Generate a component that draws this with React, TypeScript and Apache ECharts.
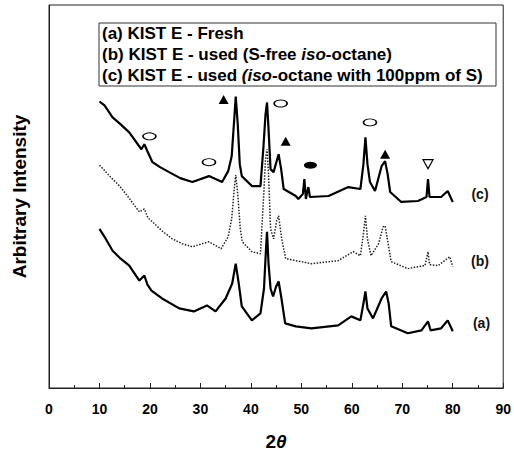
import React, { useEffect, useRef } from "react";
import * as echarts from "echarts";

// 2θ (degrees), arbitrary intensity
const traceA: [number, number][] = [
  [10, 160], [11, 152], [12.6, 138], [14.2, 130], [15.9, 123], [17.9, 108], [18.9, 113], [19.5, 104],
  [20.3, 98], [22.4, 90], [25.8, 80], [28.7, 77], [31.3, 83], [33.0, 77], [35.0, 90], [36.3, 105],
  [37.0, 125], [37.6, 105], [38.2, 82], [40.2, 68], [41.9, 75], [42.6, 100], [43.0, 140], [43.2, 157],
  [43.5, 125], [43.9, 100], [44.4, 92], [45.0, 102], [45.5, 107], [46.0, 92], [46.8, 65], [48.9, 62],
  [52, 60], [57.3, 63], [59.9, 72], [61.7, 68], [62.3, 85], [62.7, 97], [63.1, 80], [64.2, 70],
  [65.9, 90], [66.8, 97], [67.3, 85], [67.8, 62], [71.1, 55], [73.8, 58], [75.1, 67], [75.6, 58],
  [77.7, 60], [79, 68], [80, 57],
];

const traceB: [number, number][] = [
  [10, 224], [10.4, 222], [12.2, 212], [14, 203], [16, 190], [17.9, 177], [18.9, 180], [19.6, 171],
  [20.5, 167], [22.4, 158], [24.4, 150], [26.4, 145], [28.4, 142], [31.7, 147], [34.1, 140], [35.5, 152],
  [36.2, 170], [36.7, 200], [37.0, 214], [37.4, 195], [37.9, 160], [38.3, 147], [40.2, 137], [41.9, 135],
  [42.5, 190], [42.9, 230], [43.2, 240], [43.5, 215], [43.9, 160], [44.5, 150], [45.1, 168], [45.5, 173],
  [46.1, 150], [46.9, 130], [52, 125], [57.3, 128], [60.3, 137], [61.7, 133], [62.3, 155], [62.7, 173],
  [63.1, 150], [63.8, 133], [65.3, 145], [66.2, 162], [66.6, 163], [67.2, 145], [67.8, 127], [71.1, 120],
  [74.5, 123], [75.1, 137], [75.4, 124], [77.1, 123], [79.4, 132], [80, 122],
];

const traceC: [number, number][] = [
  [10, 288], [11, 284], [12.6, 272], [14.2, 265], [15.9, 257], [18.3, 240], [18.9, 245], [19.5, 238],
  [20.5, 227], [22.0, 222], [23.8, 217], [26.0, 211], [28.4, 207], [31.7, 213], [34.3, 207], [35.5, 218],
  [36.2, 233], [36.7, 270], [37.0, 293], [37.4, 265], [37.8, 225], [38.2, 213], [40.2, 203], [41.9, 203],
  [42.5, 243], [42.9, 275], [43.2, 287], [43.5, 260], [43.9, 220], [44.5, 217], [45.1, 228], [45.5, 235],
  [46.0, 220], [46.5, 200], [48.9, 193], [49.4, 190], [50.3, 195], [50.6, 210], [50.9, 190], [51.2, 198],
  [51.4, 202], [51.7, 192], [55.4, 193], [59.3, 202], [61.7, 200], [62.3, 225], [62.7, 252], [63.1, 225],
  [63.6, 207], [64.6, 198], [65.9, 223], [66.6, 228], [67.1, 215], [67.6, 197], [69.8, 187], [73.1, 188],
  [74.8, 192], [75.1, 210], [75.4, 192], [77.7, 192], [79.0, 198], [80, 187],
];

// phase markers: [2θ, height, kind]
const markerPts: [number, number, string][] = [
  [34.6, 290, "tri"], [19.9, 253, "ell"], [31.7, 227, "ell"], [45.9, 286, "ell"], [46.9, 248, "tri"],
  [51.8, 224, "dot"], [63.6, 267, "ell"], [66.6, 235, "tri"], [75.1, 225, "itri"],
];

// trace labels
const traceLabels: [number, number, string][] = [
  [85.5, 195, "(c)"], [85.5, 127, "(b)"], [85.8, 65, "(a)"],
];

const xTicks = { min: 0, max: 90, interval: 10 };

const FONT = "'Liberation Sans', Arial, Helvetica, sans-serif";

export default function App() {
  const ref = useRef<HTMLDivElement>(null);
  useEffect(() => {
    if (!ref.current) return;
    const chart = echarts.init(ref.current, null, { renderer: "svg" });
    const markerData = markerPts.map(([x, y, k]) => {
      if (k === "tri")
        return { value: [x, y], symbol: "triangle", symbolSize: [10, 9], itemStyle: { color: "#000", opacity: 1 } };
      if (k === "itri")
        return {
          value: [x, y],
          symbol: "path://M0,0 L10,0 L5,9 Z",
          symbolSize: [10, 9],
          itemStyle: { color: "#fff", borderColor: "#000", borderWidth: 1.2, opacity: 1 },
        };
      if (k === "dot")
        return { value: [x, y], symbol: "circle", symbolSize: [13, 7], itemStyle: { color: "#000", opacity: 1 } };
      return {
        value: [x, y],
        symbol: "circle",
        symbolSize: [13, 7],
        itemStyle: { color: "#fff", borderColor: "#000", borderWidth: 1.2, opacity: 1 },
      };
    });
    chart.setOption({
      animation: false,
      backgroundColor: "#fff",
      grid: {
        left: 49,
        right: 9,
        top: 5,
        bottom: 66,
        show: true,
        borderColor: "#222",
        borderWidth: 1,
        containLabel: false,
      },
      xAxis: {
        type: "value",
        min: xTicks.min,
        max: xTicks.max,
        interval: xTicks.interval,
        axisLine: { show: true, lineStyle: { color: "#222", width: 1 } },
        axisTick: { show: true, inside: true, length: 5, lineStyle: { color: "#222" } },
        minorTick: { show: true, splitNumber: 2, length: 3, lineStyle: { color: "#222" } },
        splitLine: { show: false },
        axisLabel: {
          margin: 14,
          fontFamily: FONT,
          fontWeight: "bold",
          fontSize: 14,
          color: "#000",
        },
        name: "{n|2}{t|θ}",
        nameLocation: "middle",
        nameGap: 44,
        nameTextStyle: {
          rich: {
            n: { fontFamily: FONT, fontWeight: "bold", fontSize: 19, color: "#000" },
            t: { fontFamily: FONT, fontWeight: "bold", fontStyle: "italic", fontSize: 19, color: "#000" },
          },
        },
      },
      yAxis: {
        type: "value",
        min: 0,
        max: 385,
        axisLine: { show: true, lineStyle: { color: "#222", width: 1 } },
        axisTick: { show: false },
        axisLabel: { show: false },
        splitLine: { show: false },
        name: "Arbitrary Intensity",
        nameLocation: "middle",
        nameGap: 20,
        nameTextStyle: { fontFamily: FONT, fontWeight: "bold", fontSize: 19, color: "#000" },
      },
      series: [
        {
          type: "line",
          data: traceA,
          showSymbol: false,
          lineStyle: { color: "#000", width: 2.2 },
          z: 3,
        },
        {
          type: "line",
          data: traceB,
          showSymbol: false,
          lineStyle: { color: "#222", width: 1.5, type: "dotted" },
          z: 2,
        },
        {
          type: "line",
          data: traceC,
          showSymbol: false,
          lineStyle: { color: "#000", width: 2.2 },
          z: 3,
        },
        {
          type: "scatter",
          data: markerData,
          itemStyle: { opacity: 1 },
          z: 5,
        },
        {
          type: "scatter",
          data: traceLabels.map(([x, y, t]) => ({ value: [x, y], name: t })),
          symbol: "circle",
          symbolSize: 1,
          itemStyle: { color: "rgba(0,0,0,0)", opacity: 1 },
          label: {
            show: true,
            position: [0, 0],
            align: "center",
            verticalAlign: "middle",
            formatter: (p: any) => p.name,
            fontFamily: FONT,
            fontWeight: "bold",
            fontSize: 14,
            color: "#111",
            textBorderWidth: 0,
            opacity: 1,
          },
        },
      ],
      graphic: [
        {
          type: "rect",
          shape: { x: 99, y: 23, width: 397, height: 63 },
          style: { fill: "#fff", stroke: "#333", lineWidth: 1 },
          z: 10,
        },
        {
          type: "text",
          x: 102,
          y: 33,
          z: 11,
          style: {
            text: "(a) KIST E - Fresh",
            font: `bold 17px ${FONT}`,
            fill: "#000",
            verticalAlign: "middle",
          },
        },
        {
          type: "text",
          x: 102,
          y: 54,
          z: 11,
          style: {
            text: "{b|(b) KIST E - used (S-free }{i|iso}{b|-octane)}",
            verticalAlign: "middle",
            rich: {
              b: { font: `bold 17px ${FONT}`, fill: "#000" },
              i: { font: `italic bold 17px ${FONT}`, fill: "#000" },
            },
          },
        },
        {
          type: "text",
          x: 102,
          y: 75,
          z: 11,
          style: {
            text: "{b|(c) KIST E - used }{i|(iso}{b|-octane with 100ppm of S)}",
            verticalAlign: "middle",
            rich: {
              b: { font: `bold 17px ${FONT}`, fill: "#000" },
              i: { font: `italic bold 17px ${FONT}`, fill: "#000" },
            },
          },
        },
      ],
    });
    return () => chart.dispose();
  }, []);
  return <div ref={ref} style={{ position: "absolute", left: 0, top: 0, width: 514, height: 456 }} />;
}
